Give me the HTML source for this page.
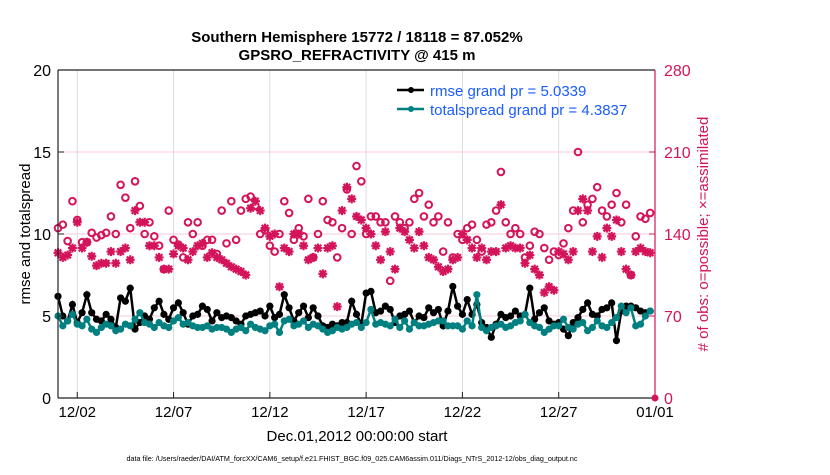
<!DOCTYPE html>
<html><head><meta charset="utf-8"><style>
body{margin:0;background:#fff;}
svg text{font-family:"Liberation Sans",sans-serif;}
</style></head><body>
<svg id="chart" width="830" height="470" viewBox="0 0 830 470" xmlns="http://www.w3.org/2000/svg">
<text x="357" y="42" text-anchor="middle" font-size="15" font-weight="bold">Southern Hemisphere 15772 / 18118 = 87.052%</text>
<text x="357" y="60" text-anchor="middle" font-size="15" font-weight="bold">GPSRO_REFRACTIVITY @ 415 m</text>
<g id="grid"></g>
<g id="series"></g>
<g id="axes"></g>
<text transform="translate(30,234) rotate(-90)" text-anchor="middle" font-size="15">rmse and totalspread</text>
<text transform="translate(708,234) rotate(-90)" text-anchor="middle" font-size="15" fill="#d4145a"># of obs: o=possible; ×=assimilated</text>
<text x="357" y="441" text-anchor="middle" font-size="15">Dec.01,2012 00:00:00 start</text>
<text x="352" y="461" text-anchor="middle" font-size="7.2">data file: /Users/raeder/DAI/ATM_forcXX/CAM6_setup/f.e21.FHIST_BGC.f09_025.CAM6assim.011/Diags_NTrS_2012-12/obs_diag_output.nc</text>
<g>
<line x1="397" y1="90" x2="424" y2="90" stroke="#000" stroke-width="2.5"/><circle cx="411" cy="90" r="3" fill="#000"/>
<text x="430" y="96" font-size="15" fill="#1a5cff">rmse grand pr = 5.0339</text>
<line x1="397" y1="109" x2="424" y2="109" stroke="#008080" stroke-width="2.5"/><circle cx="411" cy="109" r="3" fill="#008080"/>
<text x="430" y="115" font-size="15" fill="#1a5cff">totalspread grand pr = 4.3837</text>
</g>
</svg>
<script>
const rmse=[6.2,5.0,4.7,5.7,4.6,5.2,6.3,5.2,4.8,4.7,5.1,4.8,4.3,6.1,5.9,6.7,4.2,4.6,5.0,4.8,5.5,5.9,5.1,4.8,5.5,5.8,5.2,4.5,5.0,5.1,5.6,5.4,4.7,5.2,4.9,5.0,4.9,4.7,4.5,5.0,5.1,5.2,5.3,5.0,5.6,4.9,5.1,6.3,5.5,4.7,5.2,5.6,4.9,5.5,5.0,4.4,4.3,4.5,4.4,4.6,4.6,5.9,5.1,4.5,6.4,6.5,5.2,5.3,5.6,5.4,4.6,5.0,5.1,5.3,4.6,5.0,4.9,5.5,5.2,5.4,4.4,5.3,6.8,5.6,5.1,6.0,5.1,5.7,4.6,4.3,3.7,4.5,5.1,4.9,5.0,5.3,5.0,5.1,6.7,4.8,5.2,5.5,4.7,4.5,4.6,4.2,3.8,4.6,4.9,5.4,5.8,5.1,5.0,5.4,5.5,5.8,3.5,5.3,5.6,5.6,5.5,5.3,5.2,5.3];
const spread=[5.0,4.4,4.7,5.1,4.5,4.4,4.8,4.2,4.0,4.3,4.5,4.4,4.1,4.2,4.5,4.4,4.8,5.2,4.6,4.5,4.3,4.6,4.4,4.3,4.7,4.9,4.5,4.6,4.4,4.3,4.3,4.4,4.2,4.3,4.3,4.2,4.0,4.2,4.3,4.1,4.5,4.3,4.2,4.1,4.4,4.5,4.0,4.7,4.8,4.4,4.5,4.7,4.3,4.5,4.4,4.2,4.0,4.1,4.3,4.2,4.3,4.5,4.6,4.3,4.6,5.4,4.5,4.6,4.5,4.4,4.8,4.3,4.7,4.2,4.6,4.4,4.4,4.5,4.6,4.7,4.7,4.4,4.4,4.4,4.2,4.7,4.4,6.3,4.3,4.1,4.3,4.4,4.5,4.3,4.4,4.6,4.7,5.1,4.6,4.4,4.3,4.0,4.2,4.4,4.4,4.8,4.3,4.2,4.5,4.6,4.1,4.3,4.7,4.4,4.3,4.6,4.9,5.6,5.2,5.5,4.4,4.5,5.0,5.3];
const possible=[145,148,134,168,152,133,133,141,137,139,141,155,140,182,171,145,185,164,140,150,138,130,110,160,135,131,120,150,140,150,130,135,135,123,160,132,168,135,160,170,172,164,140,143,130,125,140,168,158,135,145,138,170,120,140,168,152,150,120,145,178,140,198,185,140,155,155,150,150,100,155,150,145,150,170,175,155,165,150,155,125,150,120,140,135,145,148,135,125,148,150,160,193,150,140,145,140,120,130,142,140,128,118,125,122,132,145,160,210,150,165,170,180,160,155,165,175,150,165,105,138,155,153,158];
const assimilated=[124,120,122,128,150,128,133,121,113,115,115,125,115,125,128,118,160,150,150,130,130,120,110,110,123,130,128,118,125,130,132,120,124,120,118,115,112,110,108,105,162,168,160,145,138,140,95,128,125,140,140,130,118,120,128,106,128,130,78,160,180,170,155,152,145,140,130,118,142,125,110,145,142,135,128,142,130,120,118,112,108,110,118,120,140,135,128,120,128,118,125,125,165,128,130,128,128,115,122,110,105,90,95,92,125,123,118,125,160,170,160,125,138,120,145,138,152,125,110,105,125,128,125,124];
const xTickLabels=["12/02","12/07","12/12","12/17","12/22","12/27","01/01"];
const xTickDays=[1,6,11,16,21,26,31];
const yTicks=[0,5,10,15,20];
const y2Ticks=[0,70,140,210,280];

const NS="http://www.w3.org/2000/svg";
const L=58,R=655,T=70,B=398;
const x=t=>L+(t/31)*(R-L);
const y=v=>B-(v/20)*(B-T);
const y2=c=>B-(c/280)*(B-T);
function mk(tag,attrs,parent){const e=document.createElementNS(NS,tag);for(const k in attrs)e.setAttribute(k,attrs[k]);parent.appendChild(e);return e;}
const grid=document.getElementById('grid'),ser=document.getElementById('series'),ax=document.getElementById('axes');

xTickDays.forEach((d,i)=>{
  const g=mk('line',{x1:x(d),x2:x(d),y1:T,y2:B,stroke:'#dcdcdc','stroke-width':1},grid);
  
  
  const tk=mk('line',{x1:x(d),x2:x(d),y1:B,y2:B-6,stroke:'#222','stroke-width':1},ax);
  
  
  const lb=mk('text',{x:x(d),y:B+19,'text-anchor':'middle','font-size':15},ax);
  lb.textContent=xTickLabels[i];
  
  
});
y2Ticks.forEach(c=>{
  if(c>0&&c<280){const g=mk('line',{x1:L,x2:R,y1:y2(c),y2:y2(c),stroke:'#f7c8d8','stroke-width':1},grid);
  
  }
  const tk=mk('line',{x1:R,x2:R-6,y1:y2(c),y2:y2(c),stroke:'#d4145a','stroke-width':1},ax);
  
  
  const lb=mk('text',{x:R+9,y:y2(c)+6,'font-size':16,fill:'#d4145a'},ax);
  lb.textContent=c;
  
  
});
yTicks.forEach(v=>{
  const tk=mk('line',{x1:L,x2:L+6,y1:y(v),y2:y(v),stroke:'#222','stroke-width':1},ax);
  
  
  const lb=mk('text',{x:L-7,y:y(v)+6,'text-anchor':'end','font-size':16},ax);
  lb.textContent=v;
  
  
});
const frame=[[L,T,R,T,'#222'],[L,B,R,B,'#222'],[L,T,L,B,'#222'],[R,T,R,B,'#d4145a']];
frame.forEach(f=>{const l=mk('line',{x1:f[0],y1:f[1],x2:f[2],y2:f[3],stroke:f[4],'stroke-width':1.2},ax);
  
  });
const zm=mk('circle',{cx:R,cy:B,r:3.5,fill:'#d4145a'},ax);



const tOf=i=>i*0.25;
possible.forEach((c,i)=>{
  const m=mk('circle',{cx:x(tOf(i)),cy:y2(c),r:3.3,fill:'none',stroke:'#d4145a','stroke-width':2},ser);
  
  
});
assimilated.forEach((c,i)=>{
  const cx=x(tOf(i)),cy=y2(c),s=4.5,d=3.3;
  const m=mk('path',{d:`M${cx-s},${cy}H${cx+s}M${cx},${cy-s}V${cy+s}M${cx-d},${cy-d}L${cx+d},${cy+d}M${cx-d},${cy+d}L${cx+d},${cy-d}`,stroke:'#d4145a','stroke-width':2.2},ser);
  
  
});
function line(arr,col,name){
  const p=mk('polyline',{points:arr.map((v,i)=>x(tOf(i))+','+y(v)).join(' '),fill:'none',stroke:col,'stroke-width':2.5},ser);
  
  
  arr.forEach((v,i)=>{const c=mk('circle',{cx:x(tOf(i)),cy:y(v),r:3.6,fill:col},ser);
    
    });
}
line(rmse,'#000','rmse');
line(spread,'#008080','totalspread');
</script>
</body></html>
